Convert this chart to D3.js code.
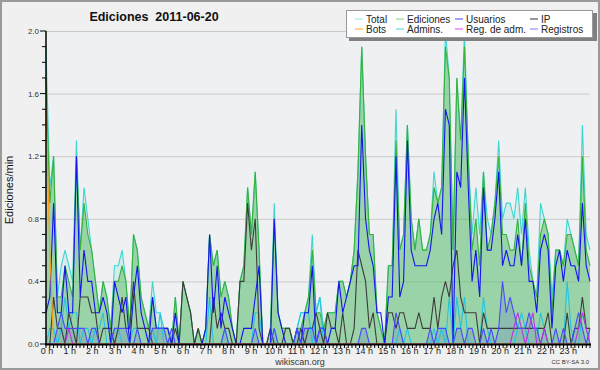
<!DOCTYPE html>
<html><head><meta charset="utf-8">
<script src="https://cdn.jsdelivr.net/npm/d3@7"></script>
<style>body{margin:0;background:#f0f0f0}svg{display:block}text{font-family:"Liberation Sans",Arial,sans-serif}</style>
</head><body><svg id="c" width="600" height="370"></svg>
<script>
const title = "Ediciones  2011-06-20";
const hourLabels = d3.range(0, 24).map(h => h + " h");
const yTicks = [0, 0.4, 0.8, 1.2, 1.6, 2.0];
const total = [1.9,1.0,1.2,0.3,0.5,0.6,0.5,0.4,1.3,0.6,1.0,0.8,0.6,0.4,0.2,0.4,0.3,0.1,0.5,0.5,0.6,0.4,0.1,0.7,0.6,0.3,0.2,0.1,0.4,0.2,0.2,0.1,0.1,0.0,0.3,0.0,
0.4,0.3,0.2,0.0,0.1,0.0,0.1,0.7,0.5,0.6,0.3,0.4,0.3,0.1,0.0,0.4,0.5,1.0,0.7,1.1,0.6,0.0,0.0,0.1,0.9,0.2,0.1,0.1,0.1,0.0,0.1,0.2,0.2,0.3,0.7,0.2,
0.3,0.1,0.2,0.2,0.2,0.4,0.4,0.3,0.4,0.6,1.1,1.9,1.2,0.7,0.7,0.2,0.1,0.0,0.5,0.5,1.5,0.6,0.7,1.4,0.8,0.6,0.8,0.6,0.6,0.7,1.1,0.9,1.0,2.0,1.7,0.6,
1.7,1.3,2.0,1.2,0.7,1.0,0.7,1.1,0.8,0.7,0.9,1.3,0.8,0.9,0.9,0.8,1.0,0.7,1.0,0.6,0.4,0.3,0.9,0.8,0.7,0.3,0.6,0.6,0.5,0.8,0.7,0.6,0.5,1.4,0.7,0.6];
const ediciones = [1.7,0.9,1.2,0.3,0.3,0.5,0.4,0.3,1.2,0.6,0.9,0.7,0.6,0.4,0.2,0.4,0.3,0.1,0.4,0.4,0.5,0.4,0.1,0.7,0.6,0.3,0.2,0.1,0.3,0.1,0.1,0.1,0.1,0.0,0.3,0.0,
0.4,0.3,0.2,0.0,0.1,0.0,0.1,0.7,0.5,0.6,0.3,0.4,0.3,0.1,0.0,0.4,0.5,1.0,0.7,1.1,0.6,0.0,0.0,0.1,0.8,0.2,0.1,0.1,0.1,0.0,0.1,0.1,0.2,0.3,0.6,0.2,
0.2,0.1,0.2,0.2,0.2,0.4,0.4,0.3,0.4,0.6,1.1,1.9,1.2,0.7,0.7,0.2,0.1,0.0,0.5,0.5,1.3,0.6,0.7,1.4,0.8,0.6,0.8,0.6,0.6,0.7,1.0,0.9,1.0,1.9,1.7,0.6,
1.7,1.3,1.9,1.2,0.6,0.8,0.5,1.1,0.6,0.7,0.9,1.2,0.7,0.7,0.6,0.6,0.8,0.5,0.9,0.5,0.4,0.3,0.7,0.8,0.7,0.2,0.6,0.6,0.5,0.7,0.7,0.6,0.5,1.2,0.6,0.5];
const usuarios = [0.2,0.3,0.9,0.2,0.2,0.5,0.2,0.2,1.2,0.3,0.6,0.4,0.4,0.2,0.2,0.3,0.2,0.0,0.4,0.3,0.2,0.3,0.0,0.3,0.5,0.2,0.1,0.0,0.3,0.1,0.1,0.1,0.1,0.0,0.2,0.0,
0.0,0.0,0.0,0.0,0.0,0.0,0.1,0.7,0.2,0.5,0.1,0.3,0.2,0.1,0.0,0.0,0.1,0.1,0.1,0.3,0.5,0.0,0.0,0.0,0.8,0.2,0.1,0.0,0.0,0.0,0.1,0.0,0.2,0.2,0.5,0.0,
0.1,0.1,0.0,0.1,0.1,0.4,0.2,0.3,0.4,0.5,0.5,1.4,0.8,0.6,0.5,0.2,0.2,0.0,0.3,0.3,1.2,0.3,0.4,1.3,0.6,0.5,0.5,0.5,0.5,0.6,0.8,0.9,0.7,1.5,1.4,0.0,
1.1,1.0,1.7,1.0,0.4,0.6,0.3,1.0,0.6,0.6,0.8,1.1,0.5,0.6,0.5,0.5,0.7,0.5,0.8,0.4,0.4,0.2,0.6,0.7,0.6,0.1,0.5,0.6,0.4,0.6,0.5,0.5,0.4,0.9,0.5,0.4];
const ip = [0.0,0.0,0.3,0.1,0.1,0.0,0.2,0.1,0.0,0.3,0.3,0.3,0.2,0.2,0.0,0.1,0.1,0.1,0.0,0.1,0.3,0.1,0.1,0.4,0.1,0.1,0.1,0.1,0.0,0.0,0.0,0.0,0.0,0.0,0.1,0.0,
0.4,0.3,0.2,0.0,0.1,0.0,0.0,0.0,0.3,0.1,0.2,0.1,0.1,0.0,0.0,0.4,0.4,0.9,0.6,0.8,0.1,0.0,0.0,0.1,0.0,0.0,0.0,0.1,0.1,0.0,0.0,0.1,0.0,0.1,0.1,0.2,
0.1,0.0,0.2,0.1,0.1,0.0,0.2,0.0,0.0,0.1,0.6,0.5,0.4,0.1,0.2,0.0,0.0,0.0,0.2,0.2,0.1,0.2,0.2,0.1,0.1,0.1,0.2,0.1,0.1,0.1,0.3,0.1,0.3,0.4,0.3,0.5,
0.6,0.3,0.2,0.2,0.2,0.2,0.0,0.2,0.1,0.1,0.1,0.1,0.1,0.1,0.1,0.1,0.1,0.1,0.1,0.1,0.1,0.1,0.1,0.1,0.2,0.0,0.0,0.0,0.0,0.2,0.0,0.1,0.1,0.3,0.1,0.1];
const bots = [1.5,0.6,0.0,0.0,0.0,0.0,0.0,0.0,0.0,0.0,0.0,0.0,0.0,0.0,0.0,0.0,0.0,0.0,0.0,0.0,0.0,0.0,0.0,0.0,0.0,0.0,0.0,0.0,0.0,0.0,0.0,0.0,0.0,0.0,0.0,0.0,
0,0,0,0,0,0,0,0,0,0,0,0,0,0,0,0,0,0,0,0,0,0,0,0,0,0,0,0,0,0,0,0,0,0,0,0,
0,0,0,0,0,0,0,0,0,0,0,0,0,0,0,0,0,0,0,0,0,0,0,0,0,0,0,0,0,0,0,0,0,0,0,0,
0,0,0,0,0,0,0,0,0,0,0,0,0,0,0,0,0,0,0,0,0,0,0,0,0,0,0,0,0,0,0,0,0,0,0,0];
const admins = [0.0,0.1,0.1,0.0,0.1,0.3,0.1,0.2,0.2,0.0,0.1,0.1,0.0,0.1,0.1,0.2,0.0,0.0,0.1,0.1,0.0,0.0,0.0,0.1,0.1,0.0,0.0,0.0,0.1,0.0,0.2,0.0,0.0,0.0,0.0,0.0,
0.0,0.0,0.0,0.0,0.0,0.0,0.0,0.3,0.0,0.0,0.0,0.1,0.0,0.0,0.0,0.0,0.0,0.0,0.0,0.2,0.2,0.0,0.0,0.0,0.1,0.0,0.0,0.0,0.0,0.0,0.1,0.2,0.2,0.2,0.0,0.2,
0.3,0.0,0.0,0.0,0.0,0.0,0.0,0.0,0.0,0.0,0.0,0.0,0.0,0.0,0.0,0.0,0.0,0.0,0.0,0.0,0.0,0.1,0.0,0.1,0.0,0.0,0.0,0.0,0.0,0.0,0.1,0.0,0.1,0.0,0.3,0.0,
0.3,0.1,0.3,0.0,0.0,0.0,0.0,0.3,0.1,0.0,0.0,0.0,0.0,0.0,0.0,0.0,0.1,0.2,0.1,0.0,0.0,0.0,0.2,0.1,0.0,0.0,0.0,0.0,0.0,0.4,0.1,0.0,0.0,0.2,0.1,0.0];
const regAdm = [0,0,0,0,0,0,0.1,0,0,0,0,0,0,0,0,0,0,0,0,0,0,0,0,0,0,0,0,0,0,0,0,0,0,0,0,0,
0,0,0,0,0,0,0,0,0,0,0,0,0,0,0,0,0,0,0,0,0,0,0,0,0,0,0,0,0,0,0,0,0,0,0,0,
0,0,0,0,0,0,0,0,0,0,0,0,0,0,0,0,0,0,0,0,0,0,0,0,0,0,0,0,0,0,0,0,0,0,0,0,
0,0,0,0,0,0,0,0,0,0,0,0,0,0,0,0.1,0.2,0.1,0.0,0.1,0.2,0.0,0.0,0.1,0,0,0,0,0,0,0,0,0.1,0.2,0.1,0];
const registros = [0.0,0.0,0.0,0.1,0.2,0.1,0.1,0.1,0.1,0.1,0.1,0.0,0.1,0.1,0.0,0.0,0.0,0.0,0.1,0.1,0.1,0.1,0.0,0.0,0.1,0.0,0.0,0.0,0.1,0.1,0.1,0.1,0.0,0.1,0.0,0.0,
0.0,0.0,0.0,0.0,0.0,0.0,0.0,0.0,0.0,0.0,0.0,0.1,0.0,0.0,0.0,0.0,0.0,0.0,0.0,0.1,0.0,0.0,0.0,0.0,0.1,0.0,0.0,0.0,0.0,0.0,0.1,0.0,0.1,0.1,0.1,0.0,
0.1,0.1,0.0,0.0,0.0,0.0,0.0,0.0,0.0,0.0,0.0,0.1,0.1,0.0,0.0,0.0,0.0,0.0,0.0,0.0,0.2,0.1,0.0,0.0,0.0,0.0,0.0,0.0,0.0,0.1,0.0,0.1,0.1,0.1,0.0,0.0,
0.1,0.1,0.0,0.1,0.1,0.0,0.0,0.1,0.0,0.1,0.0,0.1,0.4,0.2,0.3,0.2,0.1,0.1,0.1,0.2,0.1,0.1,0.0,0.1,0.0,0.0,0.1,0.0,0.1,0.0,0.0,0.1,0.2,0.1,0.0,0.1];

const legendItems = [
  {label:"Total", color:"#8ee6e0"},{label:"Ediciones", color:"#7fd07f"},{label:"Usuarios", color:"#4545ff"},{label:"IP", color:"#333333"},
  {label:"Bots", color:"#ffa030"},{label:"Admins.", color:"#40d4e8"},{label:"Reg. de adm.", color:"#e040f0"},{label:"Registros", color:"#7878ff"}
];

const svg = d3.select("#c");
const L = 46, R = 590, T = 31, B = 344;
const x = d3.scaleLinear().domain([0, 143]).range([L, R]);
const xh = d3.scaleLinear().domain([0, 24]).range([L, R]);
const y = d3.scaleLinear().domain([0, 2]).range([B, T]);

svg.append("rect").attr("x",1).attr("y",1).attr("width",598).attr("height",368).attr("fill","#f0f0f0").attr("stroke","#9a9a9a").attr("stroke-width",2);
svg.append("rect").attr("x",L).attr("y",T).attr("width",R-L).attr("height",B-T).attr("fill","#eef0f2");

svg.append("g").selectAll("line").data(yTicks.filter(d=>d>0)).join("line")
  .attr("x1",L).attr("x2",R).attr("y1",d=>y(d)+0.5).attr("y2",d=>y(d)+0.5)
  .attr("stroke","#cacaca").attr("stroke-width",1);

const idx = d3.range(144);
const area = arr => d3.area().x(i=>x(i)).y0(y(0)).y1(i=>y(arr[i]));
const line = arr => d3.line().x(i=>x(i)).y(i=>y(arr[i]));

svg.append("path").datum(idx).attr("d",area(total)).attr("fill","rgba(70,215,205,0.14)");
svg.append("path").datum(idx).attr("d",area(ediciones)).attr("fill","rgba(60,170,60,0.38)");
svg.append("path").datum(idx).attr("d",area(registros)).attr("fill","rgba(60,60,210,0.16)");

const series = [
  [total,"#3fd6cf"],[ediciones,"#38b238"],[admins,"#22c4e0"],[ip,"#3c3c3c"],
  [usuarios,"#1414f0"],[registros,"#4a4aff"],[regAdm,"#c030e0"],[bots,"#ff9a10"]
];
series.forEach(([arr,c])=>{
  svg.append("path").datum(idx).attr("d",line(arr)).attr("fill","none").attr("stroke",c).attr("stroke-width",1.1);
});

const yax = svg.append("g");
yax.append("line").attr("x1",L).attr("x2",L).attr("y1",T).attr("y2",B).attr("stroke","#000").attr("stroke-width",1.5);
yax.selectAll(".mt").data(d3.range(0,21)).join("line")
  .attr("x1",d=>d%4===0?L-6:L-4).attr("x2",L).attr("y1",d=>y(d/10)).attr("y2",d=>y(d/10)).attr("stroke","#000");
yax.selectAll("text").data(yTicks).join("text")
  .attr("x",L-7).attr("y",d=>y(d)+3).attr("text-anchor","end").attr("font-size",8).attr("fill","#333")
  .text(d=>d.toFixed(1));

const xax = svg.append("g");
xax.append("line").attr("x1",L-1).attr("x2",R+1).attr("y1",B+0.5).attr("y2",B+0.5).attr("stroke","#000").attr("stroke-width",2);
xax.selectAll(".t").data(d3.range(0,145)).join("line")
  .attr("x1",d=>xh(d/6)).attr("x2",d=>xh(d/6)).attr("y1",B).attr("y2",B+4).attr("stroke","#000");
xax.selectAll("text").data(hourLabels).join("text")
  .attr("x",(d,i)=>xh(i)+1).attr("y",B+10).attr("text-anchor","middle").attr("font-size",9).attr("fill","#222")
  .text(d=>d);

svg.append("text").attr("x",154).attr("y",21).attr("text-anchor","middle").attr("font-size",12.5).attr("font-weight","bold").attr("fill","#111").style("white-space","pre").text(title);
svg.append("text").attr("transform","translate(13,190) rotate(-90)").attr("text-anchor","middle").attr("font-size",11).attr("fill","#111").text("Ediciones/min");
svg.append("text").attr("x",300).attr("y",365).attr("text-anchor","middle").attr("font-size",9).attr("fill","#333").text("wikiscan.org");
svg.append("text").attr("x",589).attr("y",364).attr("text-anchor","end").attr("font-size",6).attr("fill","#333").text("CC BY-SA 3.0");

const lg = svg.append("g");
lg.append("rect").attr("x",349).attr("y",13).attr("width",248).attr("height",28).attr("fill","#808080");
lg.append("rect").attr("x",346.5).attr("y",10.5).attr("width",246).attr("height",27).attr("fill","#fff").attr("stroke","#999");
const colX = [355, 396, 455, 530];
legendItems.forEach((it,k)=>{
  const cx = colX[k%4], cy = k<4 ? 19 : 29;
  lg.append("line").attr("x1",cx).attr("x2",cx+8).attr("y1",cy).attr("y2",cy).attr("stroke",it.color).attr("stroke-width",1);
  lg.append("text").attr("x",cx+11).attr("y",cy+3.5).attr("font-size",10).attr("fill","#222").text(it.label);
});
</script></body></html>
